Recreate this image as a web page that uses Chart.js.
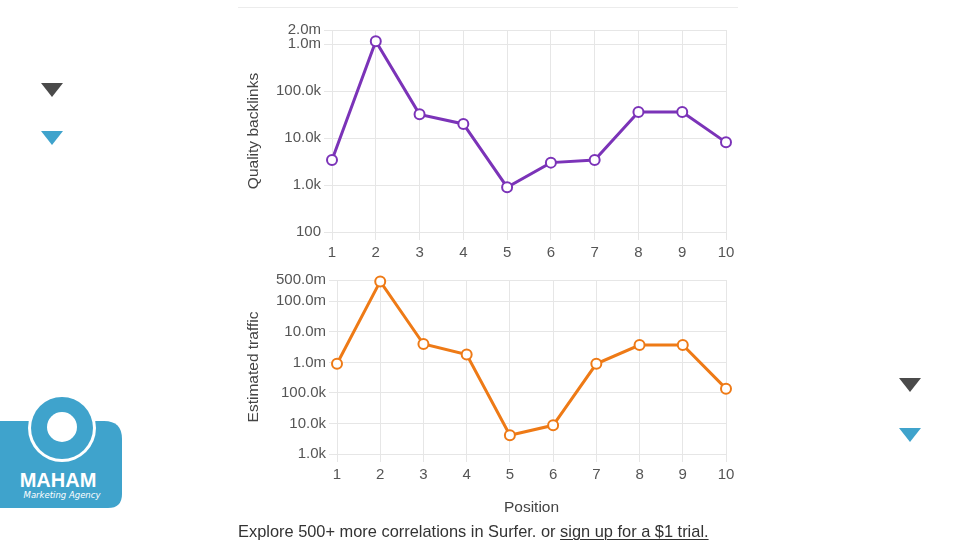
<!DOCTYPE html>
<html>
<head>
<meta charset="utf-8">
<script src="https://cdn.jsdelivr.net/npm/chart.js@4"></script>
<style>
  html, body { margin: 0; padding: 0; background: #fff; }
  body { width: 967px; height: 550px; position: relative; overflow: hidden; font-family: "Liberation Sans", Arial, sans-serif; }
  .box { position: absolute; }
  #topWrap { left: 240px; top: 18px; width: 500px; height: 252px; }
  #botWrap { left: 240px; top: 268px; width: 500px; height: 252px; }
  .rule { position: absolute; left: 238px; top: 7px; width: 500px; height: 1px; background: #ececec; }
  .footer { position: absolute; left: 238px; top: 522px; font-size: 16.4px; color: #333; white-space: nowrap; }
  .footer u { text-decoration-thickness: 1px; text-underline-offset: 2px; }
  .tri { position: absolute; width: 0; height: 0; border-left: 11px solid transparent; border-right: 11px solid transparent; border-top: 14px solid #4a4a4a; }
  .tri.blue { border-top-color: #3fa3cc; }
</style>
</head>
<body>
<div class="rule"></div>
<div class="box" id="topWrap"><canvas id="backlinksChart"></canvas></div>
<div class="box" id="botWrap"><canvas id="trafficChart"></canvas></div>
<div class="footer">Explore 500+ more correlations in Surfer. or <u>sign up for a $1 trial.</u></div>

<div class="tri" style="left:41px;top:83px"></div>
<div class="tri blue" style="left:41px;top:131px"></div>
<div class="tri" style="left:899px;top:378px"></div>
<div class="tri blue" style="left:899px;top:428px"></div>

<svg class="box" style="left:0;top:390px" width="130" height="125" viewBox="0 0 130 125">
  <path d="M0 31 H104 Q122 31 122 49 V104 Q122 118 108 118 H0 Z" fill="#3fa3cc"/>
  <circle cx="62" cy="38" r="34" fill="#fff"/>
  <circle cx="62" cy="38" r="31" fill="#3fa3cc"/>
  <circle cx="62" cy="37" r="15" fill="#fff"/>
  <text x="58" y="97" text-anchor="middle" fill="#fff" font-family="Liberation Sans, Arial" font-weight="bold" font-size="20">MAHAM</text>
  <text x="62" y="108" text-anchor="middle" fill="#fff" font-family="DejaVu Sans, sans-serif" font-style="italic" font-size="8.5">Marketing Agency</text>
</svg>

<script>
/* Two stacked log charts: backlinks and traffic by SERP position */

const positions = ["1", "2", "3", "4", "5", "6", "7", "8", "9", "10"];
const backlinks = [3400, 1150000, 32000, 20000, 900, 3000, 3400, 36000, 36000, 8100];
const traffic = [900000, 450000000, 4000000, 1800000, 4100, 8700, 900000, 3700000, 3700000, 138000];
const backlinkTicks = [100, 1000, 10000, 100000, 1000000, 2000000];
const trafficTicks = [1000, 10000, 100000, 1000000, 10000000, 100000000, 500000000];

Chart.defaults.font.family = '"Liberation Sans", Helvetica, Arial, sans-serif';
Chart.defaults.color = "#666";

const gridColor = "#e6e6e6";

function fmtShort(v) {
  if (v >= 1e6) return (v / 1e6).toFixed(1) + "m";
  if (v >= 1e3) return (v / 1e3).toFixed(1) + "k";
  return String(v);
}

function makeChart(canvasId, values, ticks, color, yTitle, yWidth, xHeight, showXTitle) {
  const ctx = document.getElementById(canvasId).getContext("2d");
  return new Chart(ctx, {
    type: "line",
    data: {
      labels: positions,
      datasets: [
        {
          data: values,
          borderColor: color,
          backgroundColor: "#fff",
          borderWidth: 3,
          pointRadius: 5,
          pointBorderWidth: 2,
          pointBackgroundColor: "#fff",
          pointBorderColor: color,
          tension: 0,
          clip: false,
        },
      ],
    },
    options: {
      responsive: true,
      maintainAspectRatio: false,
      animation: false,
      layout: { padding: { top: 9, right: 14, bottom: 0, left: 0 } },
      plugins: { legend: { display: false }, tooltip: { enabled: false } },
      scales: {
        x: {
          grid: { color: gridColor, tickLength: 8 },
          border: { color: gridColor },
          ticks: { color: "#555", font: { size: 15 }, padding: 4, maxRotation: 0 },
          title: {
            display: showXTitle,
            text: "Position",
            color: "#444",
            font: { size: 15.5 },
            padding: { top: 0, bottom: 3 },
          },
          afterFit: (scale) => { scale.height = xHeight; },
        },
        y: {
          type: "logarithmic",
          min: ticks[0],
          max: ticks[ticks.length - 1],
          grid: { color: gridColor, tickLength: 8 },
          border: { color: gridColor },
          ticks: {
            color: "#555",
            font: { size: 15 },
            autoSkip: false,
            padding: 3,
            callback: (v) => fmtShort(v),
          },
          afterBuildTicks: (scale) => {
            scale.ticks = ticks.map((v) => ({ value: v }));
          },
          title: {
            display: true,
            text: yTitle,
            color: "#444",
            font: { size: 15.5 },
            padding: { top: 4, bottom: 0 },
          },
          afterFit: (scale) => { scale.width = yWidth; },
        },
      },
    },
  });
}

makeChart("backlinksChart", backlinks, backlinkTicks, "#7b33b8", "Quality backlinks", 92, 38, false);
makeChart("trafficChart", traffic, trafficTicks, "#ee7a16", "Estimated traffic", 97, 66, true);
</script>
</body>
</html>
